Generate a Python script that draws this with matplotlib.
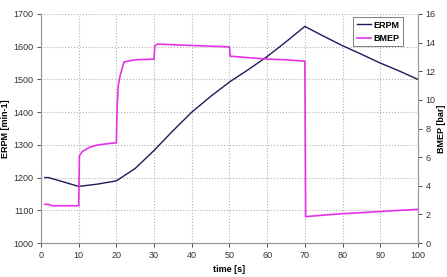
import matplotlib
matplotlib.use("Agg")
import matplotlib.pyplot as plt

plt.rcParams['font.family'] = ['Liberation Sans', 'DejaVu Sans']

# ERPM series
erpm_t = [1, 2, 5, 10, 15, 20, 25, 30, 35, 40, 45, 50, 55, 60, 65, 70, 75, 80, 85, 90, 95, 100]
erpm_v = [1200, 1200, 1190, 1173, 1180, 1190, 1228, 1283, 1343, 1400, 1448, 1492, 1530, 1570, 1615, 1662, 1632, 1603, 1577, 1550, 1526, 1500]

# BMEP series
bmep_t = [1, 2, 3, 5, 10, 10.2, 11, 13, 15, 18, 20, 20.2, 20.5, 21, 22, 25, 30, 30.2, 31, 35, 40, 45, 50, 50.2, 55, 60, 65, 70, 70.2, 75, 80, 85, 90, 95, 100]
bmep_v = [2.7, 2.7, 2.6, 2.6, 2.6, 6.1, 6.4, 6.7, 6.85, 6.95, 7.0, 9.5, 11.0, 11.7, 12.65, 12.8, 12.85, 13.8, 13.9, 13.85, 13.8, 13.75, 13.7, 13.05, 12.95, 12.85, 12.8, 12.7, 1.84, 1.95, 2.05, 2.12, 2.2, 2.28, 2.35]

x_ticks = list(range(0, 101, 10))
left_ticks = list(range(1000, 1701, 100))
right_ticks = list(range(0, 17, 2))

fig = plt.figure(figsize=(4.47, 2.77), dpi=100)
ax = fig.add_axes([0.0917, 0.1227, 0.8433, 0.8268])
ax2 = ax.twinx()

navy = '#1c1c5a'
mag = '#e632e6'

l1, = ax.plot(erpm_t, erpm_v, color=navy, lw=1.0, label='ERPM')
l2, = ax2.plot(bmep_t, bmep_v, color=mag, lw=1.2, label='BMEP')

ax.set_xlim(0, 100)
ax.set_ylim(1000, 1700)
ax2.set_ylim(0, 16)
ax.set_xticks(x_ticks)
ax.set_yticks(left_ticks)
ax2.set_yticks(right_ticks)

ax.grid(True, color='#b0b0b0', linestyle=':', linewidth=0.8)
for a in (ax, ax2):
    a.tick_params(labelsize=6.5, colors='#333333', length=3, width=0.6, pad=2.5)
    for s in a.spines.values():
        s.set_color('#999999')
        s.set_linewidth(0.8)
ax.spines['top'].set_visible(False)
ax2.spines['top'].set_visible(False)

ax.set_xlabel('time [s]', fontsize=6.5, fontweight='bold')
ax.set_ylabel('ERPM [min-1]', fontsize=6.5, fontweight='bold')
ax2.set_ylabel('BMEP [bar]', fontsize=6.5, fontweight='bold', rotation=90)
ax.xaxis.set_label_coords(0.5, -0.095)
ax.yaxis.set_label_coords(-0.082, 0.5)
ax2.yaxis.set_label_coords(1.05, 0.5)

leg = ax2.legend(handles=[l1, l2], loc='upper right', bbox_to_anchor=(0.96, 0.985),
                 prop={'weight': 'bold', 'size': 6.5}, frameon=True,
                 fancybox=False, edgecolor='#444444', handlelength=1.6, borderpad=0.35,
                 labelspacing=0.5, handletextpad=0.3, borderaxespad=0.0)
leg.get_frame().set_linewidth(0.6)

fig.savefig('out.png', dpi=100)
